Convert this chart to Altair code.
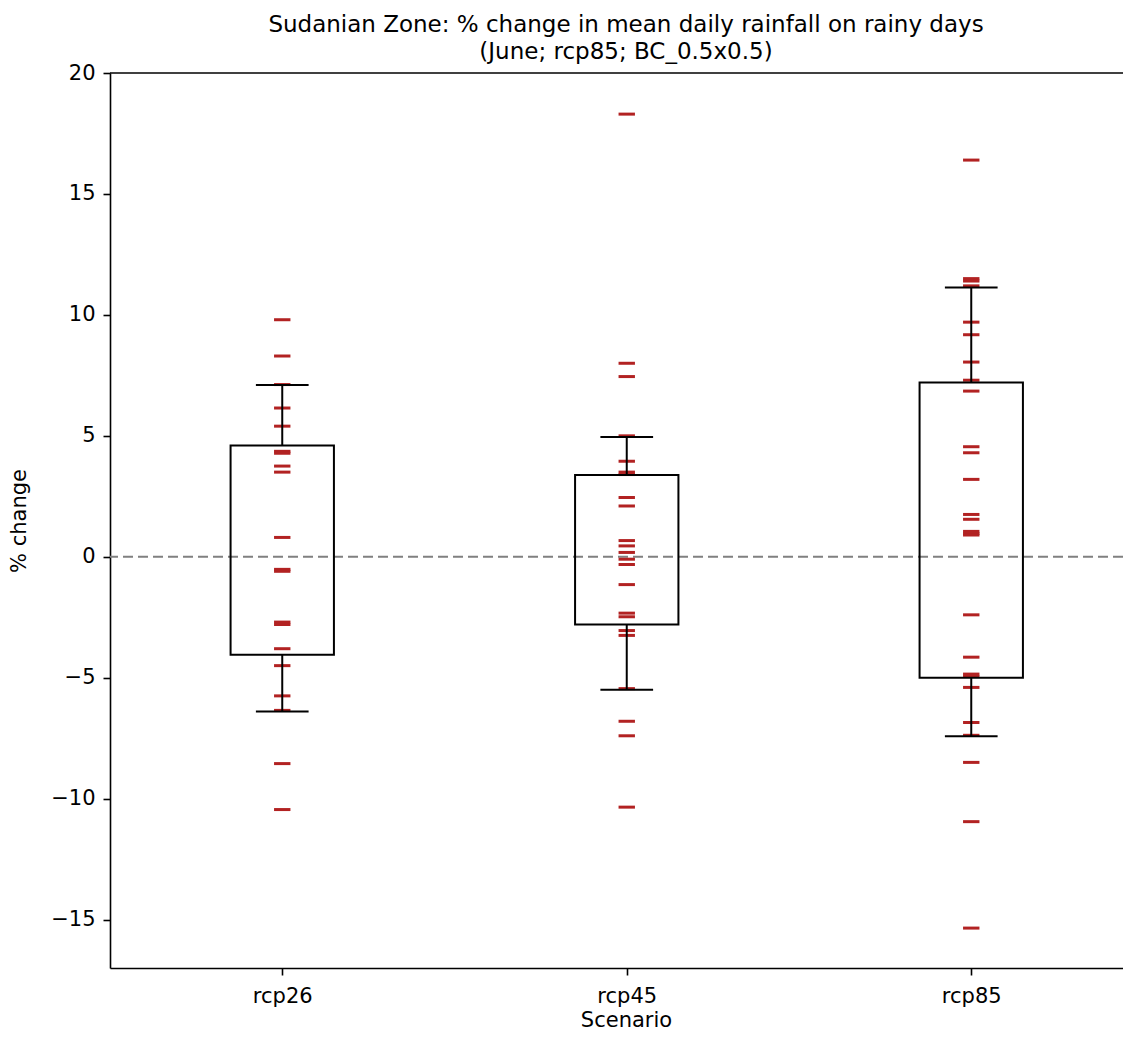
import altair as alt
import pandas as pd

# ---- data ----
scenarios = ["rcp26", "rcp45", "rcp85"]
positions = [1, 2, 3]

rcp26_values = [9.8, 8.3, 7.12, 6.15, 5.4, 4.36, 4.28, 3.75, 3.5, 0.8,
                -0.52, -0.6, -2.7, -2.8, -3.8, -4.5, -5.75, -6.35, -8.55, -10.45]
rcp45_values = [18.3, 8.0, 7.45, 5.0, 3.95, 3.5, 3.4, 2.45, 2.1, 0.67, 0.45, 0.18,
                -0.1, -0.32, -1.15, -2.33, -2.48, -3.05, -3.25, -5.45, -6.8, -7.4, -10.35]
rcp85_values = [16.4, 11.5, 11.4, 11.2, 9.7, 9.18, 8.05, 7.3, 6.85, 4.55, 4.3, 3.2,
                1.75, 1.55, 1.05, 0.96, 0.9, -2.4, -4.15, -4.85, -4.95, -5.4, -6.85,
                -7.38, -8.5, -10.95, -15.35]

q1 = [-4.05, -2.8, -5.0]
q3 = [4.6, 3.38, 7.2]
whisker_low = [-6.4, -5.5, -7.42]
whisker_high = [7.1, 4.95, 11.13]

title_lines = ["Sudanian Zone: % change in mean daily rainfall on rainy days",
               "(June; rcp85; BC_0.5x0.5)"]
y_ticks = [-15, -10, -5, 0, 5, 10, 15, 20]

# ---- tables ----
values_by_scenario = [rcp26_values, rcp45_values, rcp85_values]
pts = pd.DataFrame(
    [{"scenario": s, "pos": p, "value": v}
     for s, p, vals in zip(scenarios, positions, values_by_scenario) for v in vals]
)
box = pd.DataFrame({"scenario": scenarios, "pos": positions, "q1": q1, "q3": q3,
                    "lo": whisker_low, "hi": whisker_high})

W, H = 1013, 895
FONT = "DejaVu Sans"

label_expr = " : ".join(
    [f"datum.value == {p} ? '{s}'" for p, s in zip(positions[:-1], scenarios[:-1])]
) + f" : '{scenarios[-1]}'"

xscale = alt.Scale(domain=[0.5, 3.4405], nice=False, zero=False)
xaxis = alt.Axis(values=positions, labelExpr=label_expr, title="Scenario",
                 titleX=516, titleY=58, titleAlign="center",
                 titleBaseline="alphabetic", labelPadding=10)
yscale = alt.Scale(domain=[-17, 20], nice=False, zero=False)
yaxis = alt.Axis(values=y_ticks, title="% change", labelPadding=8, titlePadding=21)

# zero reference line
zero = alt.Chart(pd.DataFrame({"y": [0]})).mark_rule(
    color="#808080", strokeWidth=2, strokeDash=[10, 5]
).encode(y=alt.Y("y:Q", scale=yscale, axis=yaxis))

# red per-model ticks
ticks = alt.Chart(pts).transform_calculate(
    xa="datum.pos - 0.0238", xb="datum.pos + 0.0238"
).mark_rule(color="#b22222", strokeWidth=3).encode(
    x=alt.X("xa:Q", scale=xscale, axis=xaxis),
    x2="xb:Q",
    y=alt.Y("value:Q", scale=yscale, axis=yaxis),
)

boxes = alt.Chart(box).transform_calculate(
    xa="datum.pos - 0.15", xb="datum.pos + 0.15"
).mark_rect(fill="white", fillOpacity=0, stroke="black", strokeWidth=2).encode(
    x=alt.X("xa:Q", scale=xscale, axis=xaxis),
    x2="xb:Q",
    y=alt.Y("q1:Q", scale=yscale, axis=yaxis),
    y2="q3:Q",
)

whisk_hi = alt.Chart(box).mark_rule(color="black", strokeWidth=2).encode(
    x=alt.X("pos:Q", scale=xscale, axis=xaxis),
    y=alt.Y("q3:Q", scale=yscale, axis=yaxis),
    y2="hi:Q",
)
whisk_lo = alt.Chart(box).mark_rule(color="black", strokeWidth=2).encode(
    x=alt.X("pos:Q", scale=xscale, axis=xaxis),
    y=alt.Y("q1:Q", scale=yscale, axis=yaxis),
    y2="lo:Q",
)

cap_hi = alt.Chart(box).transform_calculate(
    xa="datum.pos - 0.0765", xb="datum.pos + 0.0765"
).mark_rule(color="black", strokeWidth=2).encode(
    x=alt.X("xa:Q", scale=xscale, axis=xaxis),
    x2="xb:Q",
    y=alt.Y("hi:Q", scale=yscale, axis=yaxis),
)
cap_lo = alt.Chart(box).transform_calculate(
    xa="datum.pos - 0.0765", xb="datum.pos + 0.0765"
).mark_rule(color="black", strokeWidth=2).encode(
    x=alt.X("xa:Q", scale=xscale, axis=xaxis),
    x2="xb:Q",
    y=alt.Y("lo:Q", scale=yscale, axis=yaxis),
)

top_spine = alt.Chart(pd.DataFrame({"a": [0]})).mark_rule(
    color="black", strokeWidth=1.6
).encode(x=alt.value(0), x2=alt.value(W), y=alt.value(0))

chart = alt.layer(
    zero, ticks, boxes, whisk_hi, whisk_lo, cap_hi, cap_lo, top_spine
).properties(
    width=W,
    height=H,
    title=alt.Title(text=title_lines, font=FONT, fontSize=23, fontWeight="normal",
                    color="black", anchor="middle", dx=9.5, offset=-2, lineHeight=27),
    autosize=alt.AutoSizeParams(type="none"),
    padding={"left": 102, "top": 65, "right": 0, "bottom": 63},
).configure_view(stroke=None).configure_axis(
    grid=False,
    domainColor="black", domainWidth=1.6,
    tickColor="black", tickWidth=1.6, tickSize=7,
    labelFont=FONT, labelFontSize=21, labelColor="black",
    titleFont=FONT, titleFontSize=21, titleColor="black", titleFontWeight="normal",
)

chart.save("out.html", embed_options={"renderer": "svg", "actions": False})
